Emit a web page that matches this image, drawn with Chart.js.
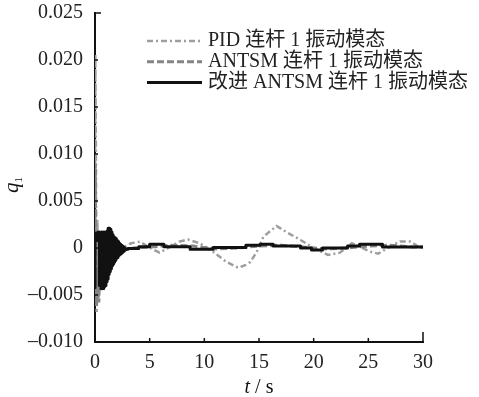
<!DOCTYPE html>
<html>
<head>
<meta charset="utf-8">
<script src="https://cdn.jsdelivr.net/npm/chart.js@4.4.1/dist/chart.umd.min.js"></script>
<style>
  html,body{margin:0;padding:0;background:#fff;}
  canvas{display:block;}
</style>
</head>
<body>
<canvas id="c" width="479" height="397"></canvas>
<script>
// series labels
const seriesNames = ['PID 连杆 1 振动模态', 'ANTSM 连杆 1 振动模态', '改进 ANTSM 连杆 1 振动模态'];

// PID (dash-dot, light gray)
const pidT = [0, 0.03, 0.08, 0.15, 0.22, 0.3, 0.38, 0.46, 0.55, 0.65, 0.8, 1.0, 1.3, 1.7, 2.2, 2.7, 3.3, 4.1, 4.85, 5.9, 6.7, 7.7, 8.5, 9.6, 10.8, 12.0, 13.1, 13.8, 14.2, 14.8, 15.4, 16.6, 17.5, 18.8, 20.0, 21.3, 22.4, 23.5, 24.2, 25.2, 25.9, 27.0, 27.9, 28.8, 29.6, 30];
const pidQ = [0, 0.0206, 0.011, -0.0068, 0.003, -0.0055, 0.0015, -0.0045, 0.0008, -0.0032, 0.0004, -0.0015, 0.0006, -0.0006, 0.0003, 0.0001, 0.0005, 0.00067, 0.00014, -0.0005, 0, 0.00067, 0.0009, 0.0005, -0.0004, -0.00146, -0.0021, -0.0018, -0.0015, -0.0004, 0.0012, 0.00234, 0.0017, 0.00085, 0, -0.00074, -0.0005, 0.0005, 0.00014, -0.0004, -0.0006, 0.00014, 0.0007, 0.0007, 0.00014, 0.0001];

// ANTSM (dashed, gray)
const antsmT = [0, 0.03, 0.08, 0.15, 0.25, 0.35, 0.45, 0.6, 0.8, 1.0, 1.3, 1.7, 2.2, 2.8, 3.5, 5, 7, 9, 11, 13, 15, 17, 19, 21, 23, 25, 27, 29, 30];
const antsmQ = [0, 0.009, -0.003, -0.0062, -0.002, -0.0058, -0.001, -0.0045, 0.0005, -0.002, 0.0008, -0.0008, 0.0004, -0.0002, 0, 0.0001, 0.0003, 0.0002, -0.0001, 0, 0.0002, 0.0003, 0.0001, -0.0001, 0, 0.0002, 0.0003, 0.0001, 0.0001];

// improved ANTSM (solid, black): fast chatter up to ~2.8 s, then slow steps
const impT = [0, 0.05, 0.1, 0.2, 0.3, 0.4, 0.5, 0.55, 0.6, 0.65, 0.7, 0.75, 0.8, 0.85, 0.9, 0.95, 1.0, 1.05, 1.1, 1.15, 1.2, 1.25, 1.3, 1.35, 1.4, 1.45, 1.5, 1.55, 1.6, 1.65, 1.7, 1.75, 1.8, 1.85, 1.9, 1.95, 2.0, 2.05, 2.1, 2.15, 2.2, 2.25, 2.3, 2.35, 2.4, 2.45, 2.5, 2.55, 2.6, 2.65, 2.7, 2.75, 2.8, 3.0, 4.0, 5.0, 6.3, 8.7, 10.8, 13.8, 15.1, 16.3, 18.8, 19.8, 20.8, 23.1, 24.2, 26.3, 28.6, 30];
const impQ = [-0.0042, 0.0015, 0.0008, 0.0016, 0.0008, 0.0017, -0.004, 0.0016, -0.0043, 0.0017, -0.0042, 0.0016, -0.0043, 0.0017, -0.0041, 0.0016, -0.004, 0.0017, -0.0036, 0.0018, -0.0033, 0.0021, -0.0028, 0.0021, -0.0025, 0.002, -0.0022, 0.0017, -0.0019, 0.0014, -0.0017, 0.0012, -0.0015, 0.0011, -0.0013, 0.001, -0.0011, 0.0008, -0.001, 0.0007, -0.0008, 0.0005, -0.0007, 0.0004, -0.0006, 0.0003, -0.0005, 0.0002, -0.0004, 0.0001, -0.0003, 0, -0.0001, -0.00012, -0.00005, 0.00014, 0.0004, 0.00014, -0.00014, 0.00004, 0.0003, 0.0004, 0.0002, 0, -0.0002, 0, 0.0002, 0.0004, 0.0001, 0.0001];

const xTicks = [0, 5, 10, 15, 20, 25, 30];
const yTicks = [-0.010, -0.005, 0, 0.005, 0.010, 0.015, 0.020, 0.025];

const pts = (ts, qs) => ts.map((t, i) => ({x: t, y: qs[i]}));
const SERIF = '"Liberation Serif", "Times New Roman", serif';

// inward ticks, axis titles and the legend
const decor = {
  id: 'decor',
  afterDraw(chart){
    const {ctx, chartArea: a, scales: {x, y}} = chart;
    ctx.save();
    ctx.strokeStyle = '#111';
    ctx.lineWidth = 1.5;
    ctx.beginPath();
    xTicks.forEach(v => {
      const px = x.getPixelForValue(v);
      const len = v === xTicks[xTicks.length-1] ? 10 : 4;
      ctx.moveTo(px, a.bottom); ctx.lineTo(px, a.bottom - len);
    });
    yTicks.forEach(v => {
      const py = y.getPixelForValue(v);
      const len = v === yTicks[yTicks.length-1] ? 6 : 3;
      ctx.moveTo(a.left, py); ctx.lineTo(a.left + len, py);
    });
    ctx.stroke();

    // x title: t / s
    ctx.fillStyle = '#111';
    ctx.textBaseline = 'alphabetic';
    const cx = (a.left + a.right) / 2, by = 393;
    ctx.font = 'italic 20px ' + SERIF;
    const wt = ctx.measureText('t').width;
    ctx.font = '20px ' + SERIF;
    const wr = ctx.measureText(' / s').width;
    let sx = cx - (wt + wr) / 2;
    ctx.font = 'italic 20px ' + SERIF;
    ctx.fillText('t', sx, by);
    ctx.font = '20px ' + SERIF;
    ctx.fillText(' / s', sx + wt, by);

    // y title: q1
    ctx.save();
    ctx.translate(18, 185);
    ctx.rotate(-Math.PI / 2);
    ctx.font = 'italic 21px ' + SERIF;
    const wq = ctx.measureText('q').width;
    ctx.font = '11px ' + SERIF;
    const w1 = ctx.measureText('1').width;
    ctx.font = 'italic 21px ' + SERIF;
    ctx.fillText('q', -(wq + w1) / 2, 0);
    ctx.font = '11px ' + SERIF;
    ctx.fillText('1', -(wq + w1) / 2 + wq, 4);
    ctx.restore();

    // legend
    const lx = a.left + 52, ly = a.top + 28, gap = 20.7;
    chart.data.datasets.forEach((ds, i) => {
      const yy = ly + i * gap;
      ctx.save();
      ctx.strokeStyle = ds.borderColor;
      ctx.lineWidth = ds.borderWidth;
      ctx.setLineDash(ds.borderDash || []);
      ctx.beginPath();
      ctx.moveTo(lx, yy); ctx.lineTo(lx + 55, yy);
      ctx.stroke();
      ctx.restore();
      ctx.font = '20px ' + SERIF + ', "Noto Sans CJK SC"';
      ctx.textBaseline = 'middle';
      ctx.fillStyle = '#222';
      ctx.fillText(ds.label, lx + 61, yy);
    });
    ctx.restore();
  }
};

new Chart(document.getElementById('c'), {
  type: 'line',
  data: {
    datasets: [
      {label: seriesNames[0], data: pts(pidT, pidQ), borderColor: '#9e9e9e', borderWidth: 2.5, borderDash: [6, 3, 2, 3], pointRadius: 0, order: 2},
      {label: seriesNames[1], data: pts(antsmT, antsmQ), borderColor: '#858585', borderWidth: 3, borderDash: [7, 3], pointRadius: 0, order: 1},
      {label: seriesNames[2], data: pts(impT, impQ), borderColor: '#111', borderWidth: 3, borderJoinStyle: 'round', borderCapStyle: 'round', stepped: 'after', pointRadius: 0, order: 0}
    ]
  },
  options: {
    responsive: false,
    animation: false,
    devicePixelRatio: 1,
    layout: {padding: {top: 13, right: 56, left: 0, bottom: 0}},
    plugins: {legend: {display: false}, tooltip: {enabled: false}},
    scales: {
      x: {
        type: 'linear', min: 0, max: 30,
        afterBuildTicks: s => { s.ticks = xTicks.map(v => ({value: v})); },
        afterFit: s => { s.height = 55; s.paddingLeft = 0; s.paddingRight = 0; },
        grid: {display: false, drawTicks: false},
        border: {display: true, color: '#111', width: 2},
        ticks: {font: {family: SERIF, size: 20}, color: '#222', padding: 9, maxRotation: 0}
      },
      y: {
        type: 'linear', min: -0.010, max: 0.025,
        afterBuildTicks: s => { s.ticks = yTicks.map(v => ({value: v})); },
        afterFit: s => { s.width = 95; s.paddingTop = 0; s.paddingBottom = 0; },
        grid: {display: false, drawTicks: false},
        border: {display: true, color: '#111', width: 2},
        ticks: {
          font: {family: SERIF, size: 20}, color: '#222', padding: 12,
          callback: v => v === 0 ? '0' : v.toFixed(3).replace('-', '–')
        }
      }
    }
  },
  plugins: [decor]
});
</script>
</body>
</html>
